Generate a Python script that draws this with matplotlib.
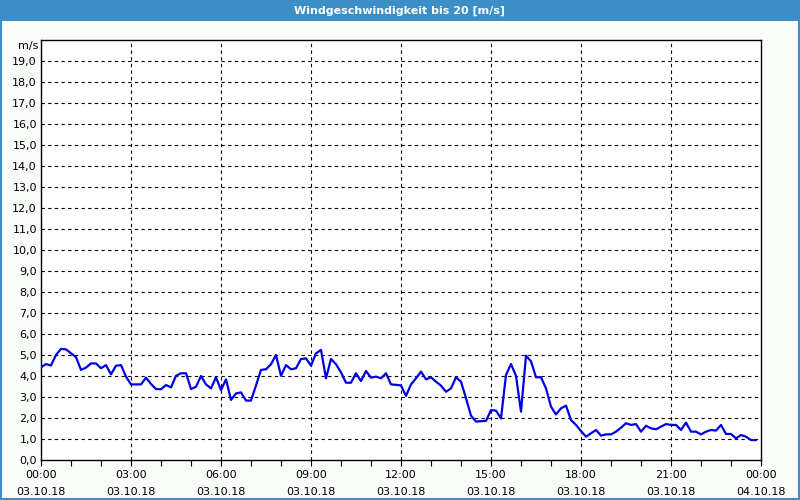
import numpy as np
import matplotlib.pyplot as plt
from matplotlib.patches import Rectangle

# wind speed, one reading every 10 minutes from 03.10.18 00:00
speed = [4.41, 4.57, 4.50, 5.00, 5.29, 5.27, 5.08, 4.90, 4.29, 4.40,
         4.60, 4.60, 4.37, 4.52, 4.08, 4.49, 4.52, 3.97, 3.60, 3.60,
         3.60, 3.92, 3.62, 3.38, 3.37, 3.57, 3.46, 4.01, 4.13, 4.13,
         3.38, 3.49, 4.00, 3.60, 3.41, 3.94, 3.33, 3.84, 2.86, 3.17,
         3.22, 2.83, 2.83, 3.55, 4.29, 4.32, 4.56, 5.00, 4.01, 4.52,
         4.32, 4.37, 4.81, 4.84, 4.49, 5.08, 5.24, 3.89, 4.81, 4.56,
         4.17, 3.68, 3.68, 4.13, 3.76, 4.24, 3.92, 3.97, 3.89, 4.13,
         3.60, 3.58, 3.55, 3.05, 3.60, 3.89, 4.21, 3.84, 3.94, 3.73,
         3.54, 3.25, 3.41, 3.94, 3.73, 2.94, 2.11, 1.83, 1.85, 1.86,
         2.38, 2.35, 1.98, 4.05, 4.57, 4.01, 2.30, 4.97, 4.70, 3.94,
         3.94, 3.41, 2.54, 2.17, 2.46, 2.59, 1.90, 1.67, 1.38, 1.11,
         1.27, 1.43, 1.16, 1.22, 1.22, 1.35, 1.54, 1.75, 1.67, 1.71,
         1.35, 1.63, 1.51, 1.46, 1.59, 1.71, 1.67, 1.67, 1.43, 1.78,
         1.35, 1.35, 1.22, 1.35, 1.43, 1.40, 1.67, 1.24, 1.24, 1.03,
         1.19, 1.11, 0.95, 0.95]

tick_hours = [0, 3, 6, 9, 12, 15, 18, 21, 24]
tick_times = ["00:00", "03:00", "06:00", "09:00", "12:00", "15:00", "18:00", "21:00", "00:00"]
tick_dates = ["03.10.18"] * 8 + ["04.10.18"]

title = "Windgeschwindigkeit bis 20 [m/s]"
blue = "#3c8fc6"

hours = np.arange(len(speed)) / 6.0

fig = plt.figure(figsize=(8, 5), dpi=100, facecolor="#fafcfa")

# title bar and frame
fig.patches.append(Rectangle((0, 0.959), 1, 0.041, transform=fig.transFigure,
                             facecolor=blue, edgecolor="none", zorder=0))
fig.patches.append(Rectangle((0.001, 0.002), 0.998, 0.997, transform=fig.transFigure,
                             facecolor="none", edgecolor=blue, linewidth=1.5, zorder=0))
fig.text(0.5, 0.979, title, color="white", fontsize=8, fontweight="bold",
         ha="center", va="center")

ax = fig.add_axes([41 / 800, 40 / 500, 720 / 800, 420 / 500])
ax.set_facecolor("white")

ax.plot(hours, speed, color="#0000e6", linewidth=1.6, zorder=3)

ax.set_xlim(0, 24)
ax.set_ylim(0, 20)

ax.set_yticks(np.arange(0, 20, 1))
ax.set_yticklabels([f"{v},0" for v in range(20)])
ax.set_xticks(tick_hours)
ax.set_xticklabels([f"{t}\n{d}" for t, d in zip(tick_times, tick_dates)], linespacing=1.9)
ax.set_xticks(np.arange(0, 25, 1), minor=True)

ax.tick_params(axis="y", length=0, labelsize=8, pad=3)
ax.tick_params(axis="x", which="both", length=4, width=0.8, direction="out",
               labelsize=8, pad=3)

for y in range(1, 20):
    ax.axhline(y, color="black", linewidth=0.8, linestyle=(0, (3, 3)), zorder=1)
for x in tick_hours[1:-1]:
    ax.axvline(x, color="black", linewidth=0.8, linestyle=(0, (3, 3)), zorder=1)

for s in ax.spines.values():
    s.set_color("black")
    s.set_linewidth(1.0)

fig.text(38 / 800, 1 - 46 / 500, "m/s", fontsize=8, ha="right", va="center")

fig.savefig("out.png", dpi=100, facecolor=fig.get_facecolor())
